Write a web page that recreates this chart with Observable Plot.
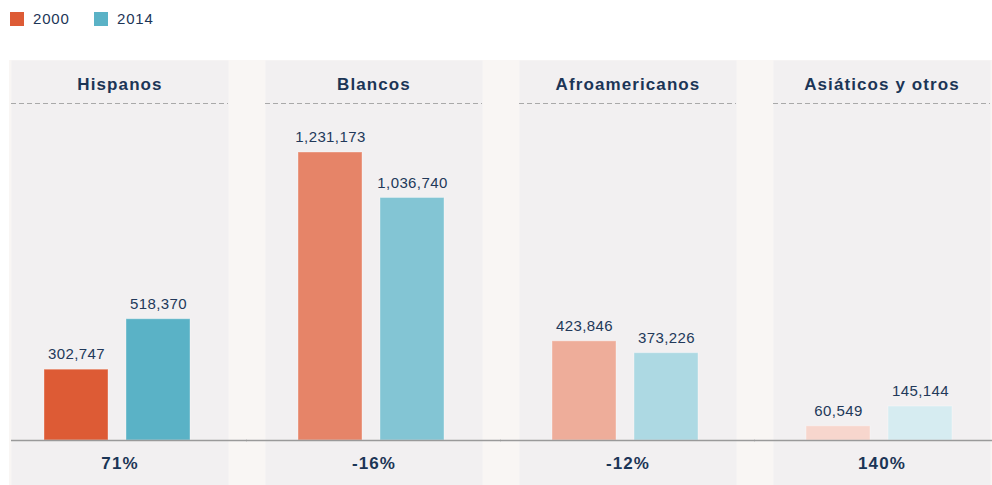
<!DOCTYPE html>
<html>
<head>
<meta charset="utf-8">
<script src="https://cdn.jsdelivr.net/npm/d3@7"></script>
<script src="https://cdn.jsdelivr.net/npm/@observablehq/plot@0.6"></script>
<style>
  html, body { margin: 0; padding: 0; background: #fff; }
  body { width: 992px; height: 485px; overflow: hidden; font-family: "Liberation Sans", Arial, sans-serif; }
  .legend { height: 60px; position: relative; color: #1d3557; font-size: 15px; letter-spacing: 0.8px; }
  .legend .item { position: absolute; top: 10px; display: flex; align-items: center; }
  .legend .sw { width: 14px; height: 14px; margin-right: 9px; }
  #chart svg { display: block; }
  #chart svg text { letter-spacing: 0.4px; }
  #chart svg g[font-weight="bold"] text { letter-spacing: 1.1px; }
</style>
</head>
<body>
<div class="legend" id="legend"></div>
<div id="chart"></div>
<script>
// ---- data ----
const groups = ["Hispanos", "Blancos", "Afroamericanos", "Asiáticos y otros"];
const years = ["2000", "2014"];
const values2000 = [302747, 1231173, 423846, 60549];
const values2014 = [518370, 1036740, 373226, 145144];
const changes = ["71%", "-16%", "-12%", "140%"];

// ---- styles ----
const baseColors = {"2000": "#dd5b35", "2014": "#5ab2c6"};
const groupAlpha = [1, 0.75, 0.5, 0.25];
const navy = "#1b3556";

// table for the library
const rows = [];
groups.forEach((g, i) => {
  rows.push({group: g, year: "2000", value: values2000[i], gi: i});
  rows.push({group: g, year: "2014", value: values2014[i], gi: i});
});
const colorOf = d => d3.interpolateRgb("#ffffff", baseColors[d.year])(groupAlpha[d.gi]);

// legend
const legend = document.getElementById("legend");
const legendX = [10, 94];
years.forEach((y, i) => {
  const it = document.createElement("div");
  it.className = "item";
  it.style.left = legendX[i] + "px";
  it.innerHTML = `<span class="sw" style="background:${baseColors[y]}"></span><span>${y}</span>`;
  legend.appendChild(it);
});

// layout
const H = 425;
const baseY = 380;            // pixel of zero
const k = 288 / 1231173;      // px per person
const yDomain = [-(H - baseY) / k, baseY / k];

const fmt = d3.format(",");

const chart = Plot.plot({
  width: 992,
  height: H,
  marginLeft: 9,
  marginRight: 0,
  marginTop: 0,
  marginBottom: 0,
  style: {
    fontFamily: "'Liberation Sans', Arial, sans-serif",
    fontSize: "15px",
    background: "linear-gradient(to right, #ffffff 9px, #f9f6f4 9px)",
    overflow: "visible"
  },
  fx: {domain: groups, paddingInner: 0.145, paddingOuter: 0, axis: null, label: null},
  x: {domain: years, paddingInner: 0.217, paddingOuter: 0.42, align: 0.47, axis: null, label: null},
  y: {domain: yDomain, axis: null, label: null},
  marks: [
    Plot.frame({fill: "#f2f0f1", stroke: "none"}),
    Plot.ruleY([yDomain[1]], {dy: 43, stroke: "#a9a9a9", strokeWidth: 1, strokeDasharray: "5,3"}),
    Plot.text(groups, {fx: d => d, text: d => d, frameAnchor: "top", lineAnchor: "middle", dy: 24,
      fill: navy, fontWeight: "bold", fontSize: 17}),
    Plot.barY(rows, {fx: "group", x: "year", y: "value", fill: colorOf,
      stroke: "#ffffff", strokeOpacity: 0.35, strokeWidth: 1}),
    Plot.text(rows, {fx: "group", x: "year", y: "value", text: d => fmt(d.value),
      dy: -15, fill: "#22395a", fontSize: 15}),
    Plot.ruleY([groups[0]], {fx: d => d, y: 0, insetRight: -19, stroke: "#9a9a9a", strokeWidth: 1.5}),
    Plot.ruleY(groups.slice(1), {fx: d => d, y: 0, insetLeft: -19, insetRight: -19, stroke: "#9a9a9a", strokeWidth: 1.5}),
    Plot.text(groups, {fx: d => d, text: d => changes[groups.indexOf(d)], frameAnchor: "bottom", lineAnchor: "middle", dy: -22,
      fill: navy, fontWeight: "bold", fontSize: 17})
  ]
});
document.getElementById("chart").appendChild(chart);
</script>
</body>
</html>
